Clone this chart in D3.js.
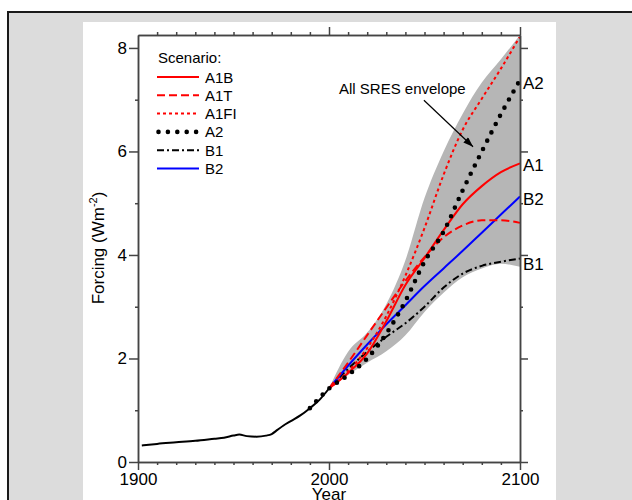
<!DOCTYPE html>
<html>
<head>
<meta charset="utf-8">
<script src="https://cdn.jsdelivr.net/npm/d3@7"></script>
<style>
  body { margin: 0; background: #fff; }
  svg { display: block; font-family: "Liberation Sans", Arial, Helvetica, sans-serif; }
  .axis path, .axis line { stroke: #444; stroke-width: 1.5; }
  .axis text { font-size: 17px; fill: #000; }
</style>
</head>
<body>
<div id="chart"></div>
<script>
// historical forcing, 1900-2000
var histYears = [1902, 1910, 1920, 1930, 1940, 1945, 1950, 1953, 1957, 1962, 1967, 1970, 1973, 1976, 1980, 1985, 1990, 1995, 2000];
var histValues = [0.32, 0.35, 0.38, 0.41, 0.45, 0.47, 0.51, 0.53, 0.50, 0.49, 0.51, 0.54, 0.62, 0.70, 0.79, 0.90, 1.04, 1.20, 1.42];

// scenario years
var scenYears = [2000, 2010, 2020, 2030, 2040, 2050, 2060, 2070, 2080, 2090, 2100];
var a2Years = [1990, 2000, 2010, 2020, 2030, 2040, 2050, 2060, 2070, 2080, 2090, 2100];

var a1b  = [1.42, 1.72, 2.10, 2.72, 3.42, 3.94, 4.48, 4.98, 5.33, 5.60, 5.77];
var a1t  = [1.42, 1.92, 2.45, 2.98, 3.50, 3.96, 4.34, 4.57, 4.67, 4.67, 4.62];
var a1fi = [1.42, 1.75, 2.20, 2.82, 3.60, 4.52, 5.55, 6.42, 7.02, 7.60, 8.22];
var a2   = [1.04, 1.42, 1.68, 2.00, 2.48, 3.11, 3.87, 4.45, 5.25, 6.00, 6.72, 7.38];
var b1   = [1.42, 1.80, 2.13, 2.42, 2.68, 3.00, 3.37, 3.64, 3.79, 3.87, 3.93];
var b2   = [1.42, 1.86, 2.27, 2.66, 3.03, 3.40, 3.74, 4.08, 4.43, 4.78, 5.13];

// all SRES envelope
var envUpper = [1.42, 2.13, 2.50, 3.05, 3.90, 5.10, 6.00, 6.73, 7.33, 7.78, 8.25];
var envLower = [1.42, 1.68, 1.92, 2.14, 2.45, 2.90, 3.27, 3.57, 3.74, 3.83, 3.77];

var xMajor = [1900, 2000, 2100];
var yMajor = [0, 2, 4, 6, 8];
var yMinor = [1, 3, 5, 7];

var legendNames = ["A1B", "A1T", "A1FI", "A2", "B1", "B2"];
var endLabels = ["A2", "A1", "B2", "B1"];
var endValues = [7.38, 5.77, 5.13, 3.93];

var W = 632, H = 500;
var svg = d3.select("#chart").append("svg").attr("width", W).attr("height", H);

// frame + white panel
svg.append("rect").attr("x", 8).attr("y", 12).attr("width", 700).attr("height", 600)
  .attr("fill", "#dcdcdc").attr("stroke", "#1a1a1a").attr("stroke-width", 2);
svg.append("rect").attr("x", 83).attr("y", 22).attr("width", 473).attr("height", 500).attr("fill", "#fff");

var x = d3.scaleLinear().domain([1900, 2100]).range([138, 520]);
var y = d3.scaleLinear().domain([0, 8.25]).range([462, 35]);

var styles = {
  A1B:  {color: "#ff0000", dash: null, width: 2, cap: "butt"},
  A1T:  {color: "#ff0000", dash: "8,4", width: 2, cap: "butt"},
  A1FI: {color: "#ff0000", dash: "3,3", width: 2, cap: "butt"},
  A2:   {color: "#000", dash: "0,9.3", width: 4.6, cap: "round"},
  B1:   {color: "#000", dash: "7,3,2,3", width: 2, cap: "butt"},
  B2:   {color: "#0000ff", dash: null, width: 2, cap: "butt"}
};

// envelope
var env = scenYears.map(function(d, i){ return {yr: d, lo: envLower[i], hi: envUpper[i]}; });
svg.append("path")
  .datum(env)
  .attr("fill", "#b6b6b6")
  .attr("d", d3.area().curve(d3.curveMonotoneX)
    .x(function(d){ return x(d.yr); })
    .y0(function(d){ return y(d.lo); })
    .y1(function(d){ return y(d.hi); }));

var line = d3.line().curve(d3.curveMonotoneX)
  .x(function(d){ return x(d[0]); })
  .y(function(d){ return y(d[1]); });

function zip(xs, ys){ return xs.map(function(v, i){ return [v, ys[i]]; }); }

var series = [
  {name: "B1", pts: zip(scenYears, b1)},
  {name: "B2", pts: zip(scenYears, b2)},
  {name: "A1T", pts: zip(scenYears, a1t)},
  {name: "A1B", pts: zip(scenYears, a1b)},
  {name: "A1FI", pts: zip(scenYears, a1fi)}
];

svg.selectAll(".scen")
  .data(series)
  .enter()
  .append("path")
  .attr("class", "scen")
  .attr("fill", "none")
  .attr("d", function(d){ return line(d.pts); })
  .attr("stroke", function(d){ return styles[d.name].color; })
  .attr("stroke-width", function(d){ return styles[d.name].width; })
  .attr("stroke-dasharray", function(d){ return styles[d.name].dash; })
  .attr("stroke-linecap", function(d){ return styles[d.name].cap; });

// historical
svg.append("path")
  .datum(zip(histYears, histValues))
  .attr("fill", "none").attr("stroke", "#000").attr("stroke-width", 2)
  .attr("d", line);

// A2 dots on top
svg.append("path")
  .datum(zip(a2Years, a2))
  .attr("fill", "none").attr("stroke", "#000")
  .attr("stroke-width", styles.A2.width)
  .attr("stroke-dasharray", styles.A2.dash)
  .attr("stroke-linecap", "round")
  .attr("d", line);

// axes
var minorYears = d3.range(1910, 2100, 10).filter(function(d){ return d !== 2000; });

svg.append("g").attr("class", "axis").attr("transform", "translate(0," + y(0) + ")")
  .call(d3.axisBottom(x).tickValues(xMajor).tickSize(8).tickSizeOuter(0).tickPadding(3).tickFormat(d3.format("d")));
svg.append("g").attr("class", "axis").attr("transform", "translate(0," + y(0) + ")")
  .call(d3.axisBottom(x).tickValues(minorYears).tickSize(3).tickSizeOuter(0).tickFormat(""));
svg.append("g").attr("class", "axis").attr("transform", "translate(0," + y(8.25) + ")")
  .call(d3.axisTop(x).tickValues([2000, 2100]).tickSize(8).tickSizeOuter(0).tickFormat(""));
svg.append("g").attr("class", "axis").attr("transform", "translate(0," + y(8.25) + ")")
  .call(d3.axisTop(x).tickValues(minorYears).tickSize(3).tickSizeOuter(0).tickFormat(""));
svg.append("g").attr("class", "axis").attr("transform", "translate(" + x(1900) + ",0)")
  .call(d3.axisLeft(y).tickValues(yMajor).tickSize(9).tickSizeOuter(0).tickPadding(2).tickFormat(d3.format("d")));
svg.append("g").attr("class", "axis").attr("transform", "translate(" + x(1900) + ",0)")
  .call(d3.axisLeft(y).tickValues(yMinor).tickSize(3).tickSizeOuter(0).tickFormat(""));
svg.append("g").attr("class", "axis").attr("transform", "translate(" + x(2100) + ",0)")
  .call(d3.axisRight(y).tickValues(yMajor).tickSize(8).tickSizeOuter(0).tickFormat(""));
svg.append("g").attr("class", "axis").attr("transform", "translate(" + x(2100) + ",0)")
  .call(d3.axisRight(y).tickValues(yMinor).tickSize(3).tickSizeOuter(0).tickFormat(""));

// axis titles
svg.append("text").attr("x", x(2000)).attr("y", 500).attr("text-anchor", "middle")
  .attr("font-size", 17).text("Year");
var yt = svg.append("text").attr("transform", "translate(103.5,248) rotate(-90)")
  .attr("text-anchor", "middle").attr("font-size", 17);
yt.append("tspan").text("Forcing (Wm");
yt.append("tspan").attr("font-size", 11).attr("dy", -7).text("-2");
yt.append("tspan").attr("dy", 7).text(")");

// end labels
var endOffset = {A2: 9.3, A1: 7.3, B2: 8.5, B1: 11.4};
svg.selectAll(".endlab")
  .data(endLabels)
  .enter()
  .append("text")
  .attr("class", "endlab")
  .attr("x", x(2100) + 3)
  .attr("y", function(d, i){ return y(endValues[i]) + endOffset[d]; })
  .attr("font-size", 17)
  .text(function(d){ return d; });

// legend
var legend = svg.append("g").attr("transform", "translate(157,0)");
legend.append("text").attr("x", 1).attr("y", 62.5).attr("font-size", 15).text("Scenario:");
var rows = legend.selectAll(".row")
  .data(legendNames)
  .enter()
  .append("g")
  .attr("class", "row")
  .attr("transform", function(d, i){ return "translate(0," + (77 + i * 18.3) + ")"; });
rows.append("line")
  .attr("x1", function(d){ return d === "A2" ? 1.5 : 0; })
  .attr("x2", function(d){ return d === "A2" ? 40 : 42; })
  .attr("stroke", function(d){ return styles[d].color; })
  .attr("stroke-width", function(d){ return styles[d].width; })
  .attr("stroke-dasharray", function(d){ return d === "A2" ? "0,9.4" : styles[d].dash; })
  .attr("stroke-linecap", function(d){ return styles[d].cap; });
rows.append("text").attr("x", 48).attr("y", 5.5).attr("font-size", 15)
  .text(function(d){ return d; });

// annotation
var note = {text: "All SRES envelope", tx: 2038.4, ty: 7.11, fromYr: 2049.7, fromVal: 6.99, toYr: 2075.4, toVal: 6.09};
svg.append("defs").append("marker")
  .attr("id", "arrow").attr("viewBox", "0 0 10 7").attr("refX", 10).attr("refY", 3.5)
  .attr("markerWidth", 11).attr("markerHeight", 7).attr("markerUnits", "userSpaceOnUse")
  .attr("orient", "auto")
  .append("path").attr("d", "M0,0 L10,3.5 L0,7 Z").attr("fill", "#000");
svg.append("text").attr("x", x(note.tx)).attr("y", y(note.ty)).attr("text-anchor", "middle")
  .attr("font-size", 15).text(note.text);
svg.append("line")
  .attr("x1", x(note.fromYr)).attr("y1", y(note.fromVal))
  .attr("x2", x(note.toYr)).attr("y2", y(note.toVal))
  .attr("stroke", "#000").attr("stroke-width", 1.2)
  .attr("marker-end", "url(#arrow)");
</script>
</body>
</html>
